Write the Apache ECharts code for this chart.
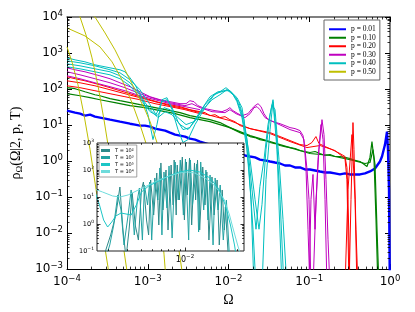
<!DOCTYPE html>
<html><head><meta charset="utf-8">
<script src="https://cdn.jsdelivr.net/npm/echarts@6/dist/echarts.min.js"></script>
<style>html,body{margin:0;padding:0;background:#fff}#c{width:415px;height:312px}</style>
</head><body><div id="c"></div>
<script>
// ---------- main panel data: [Omega, rho] ----------
const pNames = ['p = 0.01','p = 0.10','p = 0.20','p = 0.30','p = 0.40','p = 0.50'];
const pColors = ['#0000ff','#008000','#ff0000','#bf00bf','#00bfbf','#bfbf00'];

const p01_a = [[1e-4,25.1],[1.26e-4,22.1],[1.45e-4,20.7],[1.67e-4,18.2],[1.93e-4,19.4],[2.22e-4,17.1],[2.56e-4,16.1],[2.96e-4,15.1],[3.41e-4,14.1],[3.93e-4,13.3],[4.53e-4,12.4],[5.22e-4,11.7],[6.03e-4,10.9],[6.95e-4,10.3],[8.01e-4,9.64],[9.24e-4,9.64],[1.07e-3,9.05],[1.23e-3,7.96],[1.42e-3,7.47],[1.64e-3,7.01],[1.89e-3,6.17],[2.18e-3,5.43],[2.51e-3,5.10],[2.89e-3,4.79],[3.33e-3,4.21],[3.85e-3,3.95],[4.44e-3,3.48],[7.85e-3,2.37],[0.0139,1.62],[0.0160,1.43],[0.0185,1.34],[0.0213,1.26],[0.0245,1.10],[0.0283,1.04],[0.0327,0.972],[0.0377,0.912],[0.0435,0.856],[0.0501,0.753],[0.0578,0.753],[0.0667,0.663],[0.0768,0.663],[0.0886,0.584],[0.102,0.584],[0.118,0.548],[0.136,0.514],[0.157,0.482],[0.181,0.482],[0.208,0.453],[0.240,0.425],[0.277,0.453],[0.320,0.425],[0.369,0.425],[0.425,0.425],[0.490,0.453],[0.565,0.514],[0.652,0.622],[0.751,0.972],[0.796,1.34],[0.867,2.87],[0.918,6.58],[0.944,2.09],[0.972,0.163],[1.0,0.0001]];

const p10_a = [[1e-4,109],[1.26e-4,102],[1.67e-4,84.1],[2.22e-4,69.5],[2.56e-4,65.2],[3.41e-4,53.9],[4.53e-4,47.4],[6.03e-4,41.7],[8.01e-4,36.7],[1.07e-3,32.4],[1.42e-3,28.5],[1.89e-3,25.1],[2.51e-3,22.1],[3.33e-3,18.2],[4.44e-3,16.1],[5.90e-3,14.1],[7.85e-3,11.7],[0.0104,8.49],[0.0139,6.17],[0.0185,4.79],[0.0213,4.49],[0.0245,3.95],[0.0283,3.71],[0.0327,3.27],[0.0377,3.06],[0.0435,2.70],[0.0501,2.53],[0.0578,2.37],[0.0667,2.23],[0.0768,1.96],[0.0886,1.84],[0.102,1.73],[0.118,1.84],[0.136,1.62],[0.157,1.43],[0.181,1.52],[0.208,1.34],[0.240,1.34],[0.277,1.26],[0.320,1.18],[0.369,1.04],[0.425,0.972],[0.463,0.856],[0.519,0.707],[0.565,1.26],[0.598,3.48],[0.634,1.10],[0.671,0.0242],[0.710,0.0003]];
const p10_b = [[1e-4,74.1],[1.45e-4,65.2],[1.93e-4,57.4],[2.56e-4,50.5],[3.93e-4,41.7],[6.03e-4,34.5],[9.24e-4,30.4],[1.42e-3,25.1],[2.18e-3,20.7],[3.33e-3,16.1],[5.90e-3,12.4],[0.0104,8.49],[0.0185,5.10],[0.0327,3.48],[0.0578,2.37],[0.102,1.62],[0.181,1.43],[0.320,1.10],[0.490,0.856],[0.565,0.912],[0.616,2.09],[0.652,0.803],[0.690,0.0128],[0.731,0.0003]];

const p20_a = [[1e-4,219],[1.26e-4,193],[1.67e-4,169],[2.56e-4,131],[3.41e-4,109],[4.53e-4,89.7],[6.03e-4,74.1],[8.01e-4,61.2],[1.07e-3,50.5],[1.42e-3,41.7],[1.89e-3,36.7],[2.51e-3,32.4],[3.33e-3,26.7],[4.44e-3,23.5],[5.12e-3,22.1],[5.90e-3,18.2],[6.81e-3,19.4],[7.85e-3,16.1],[9.05e-3,17.1],[0.0104,14.1],[0.0120,12.4],[0.0139,9.64],[0.0185,7.96],[0.0245,7.01],[0.0327,6.17],[0.0435,4.79],[0.0578,3.71],[0.0768,2.87],[0.0938,2.70],[0.108,3.27],[0.121,4.79],[0.132,3.06],[0.157,2.53],[0.191,2.09],[0.240,1.62],[0.277,1.34],[0.293,0.663],[0.302,0.0863],[0.320,0.0003]];
const p20_b = [[1e-4,169],[1.45e-4,149],[2.22e-4,123],[3.41e-4,95.5],[5.22e-4,74.1],[8.01e-4,57.4],[1.23e-3,44.5],[1.89e-3,34.5],[2.89e-3,28.5],[4.44e-3,22.1],[6.81e-3,17.1],[0.0104,13.3],[0.0185,7.96],[0.0327,5.79],[0.0578,3.48],[0.0938,2.37],[0.136,2.70],[0.208,1.96],[0.277,1.18],[0.293,0.309],[0.311,0.0003]];
const p20_c = [[1e-4,123],[1.45e-4,109],[2.22e-4,89.7],[3.41e-4,74.1],[5.22e-4,61.2],[8.01e-4,50.5],[1.23e-3,39.2],[1.89e-3,32.4],[2.89e-3,26.7],[4.44e-3,20.7]];
const p20_s1 = [[0.311,0.0003],[0.329,0.0863],[0.348,11.7],[0.358,2.09],[0.379,0.0128],[0.4015,0.0003]];
const p20_s2 = [[0.277,0.0003],[0.302,0.163],[0.338,5.43],[0.369,0.0863],[0.390,0.0003]];

const p30_a = [[1e-4,388],[1.26e-4,342],[1.67e-4,301],[2.56e-4,233],[3.41e-4,193],[4.53e-4,149],[6.03e-4,116],[8.01e-4,84.1],[1.07e-3,61.2],[1.42e-3,50.5],[1.89e-3,44.5],[2.51e-3,39.2],[2.98e-3,39.2],[3.33e-3,47.4],[3.74e-3,44.5],[4.19e-3,34.5],[5.12e-3,28.5],[6.81e-3,25.1],[8.31e-3,23.5],[9.58e-3,26.7],[0.0104,30.4],[0.01137,25.1],[0.0131,20.7],[0.01469,18.2],[0.01744,20.7],[0.01954,28.5],[0.0213,34.5],[0.0232,39.2],[0.02526,32.4],[0.02752,20.7],[0.03084,14.1],[0.03557,12.4],[0.0435,10.9],[0.0501,9.64],[0.0578,8.49],[0.0667,7.96],[0.0768,7.01],[0.0837,5.1],[0.0886,2.09],[0.0938,0.584],[0.0993,0.0863],[0.1051,0.0003]];
const p30_b = [[1e-4,301],[1.45e-4,248],[2.22e-4,193],[3.41e-4,149],[5.22e-4,109],[8.01e-4,74.1],[1.23e-3,53.9],[1.89e-3,41.7],[2.89e-3,34.5],[3.53e-3,39.2],[4.44e-3,30.4],[6.25e-3,23.5],[9.05e-3,22.1],[0.0104,26.7],[0.01239,20.7],[0.0160,16.1],[0.0185,20.7],[0.0207,30.4],[0.02254,32.4],[0.0245,26.7],[0.0283,16.1],[0.0377,11.7],[0.0578,7.47],[0.0768,6.17],[0.0861,3.95],[0.0912,0.584],[0.0965,0.0128],[0.102,0.0003]];
const p30_c = [[1e-4,233],[1.45e-4,193],[2.22e-4,149],[3.41e-4,116],[5.22e-4,89.7],[8.01e-4,65.2],[1.23e-3,50.5],[1.89e-3,39.2],[2.89e-3,32.4],[4.44e-3,26.7]];
const p30_s1 = [[0.1113,0.0003],[0.1213,0.0863],[0.1320,2.09],[0.1438,14.1],[0.1523,5.43],[0.1612,0.309],[0.1707,0.00676],[0.1807,0.0003]];
const p30_s2 = [[0.0993,0.0003],[0.1051,0.0863],[0.1113,0.425],[0.1178,0.0128],[0.1283,1.10],[0.1397,10.3],[0.1481,3.95],[0.1567,0.0863],[0.1659,0.0003]];

const p40_a = [[1e-4,734],[1.26e-4,646],[1.67e-4,569],[2.22e-4,470],[2.56e-4,441],[2.96e-4,414],[3.41e-4,388],[3.93e-4,364],[4.53e-4,342],[5.22e-4,301],[6.03e-4,205],[6.95e-4,131],[8.01e-4,74.1],[8.73e-4,50.5],[1.007e-3,19.4],[1.16e-3,3.95],[1.30e-3,10.3],[1.50e-3,50.5],[1.73e-3,57.4],[2.00e-3,26.7],[2.37e-3,7.47],[2.73e-3,3.27],[3.15e-3,3.95],[3.85e-3,10.3],[5.12e-3,30.4],[6.81e-3,74.1],[8.31e-3,84.1],[9.58e-3,95.5],[0.01104,78.9],[0.01274,44.5],[0.01469,16.1],[0.01695,2.09],[0.0190,0.0863],[0.0207,0.0003]];
const p40_b = [[1e-4,606],[1.45e-4,534],[2.22e-4,441],[3.41e-4,342],[4.53e-4,282],[6.03e-4,181],[8.01e-4,95.5],[8.73e-4,69.5],[1.07e-3,36.7],[1.265e-3,19.4],[1.50e-3,44.5],[1.73e-3,50.5],[2.00e-3,30.4],[2.37e-3,12.4],[2.73e-3,7.47],[3.33e-3,8.49],[4.44e-3,23.5],[5.90e-3,61.2],[7.41e-3,84.1],[9.05e-3,89.7],[0.0104,89.7],[0.01239,57.4],[0.01428,23.5],[0.01647,5.43],[0.0185,1.10],[0.0213,0.0863],[0.02386,0.0128],[0.026,0.0628],[0.02913,2.09],[0.0327,19.4],[0.03557,50.5],[0.03875,7.47],[0.0435,0.0863],[0.04867,0.0003]];
const p40_c = [[1e-4,501],[1.45e-4,441],[2.22e-4,364],[3.41e-4,301],[4.53e-4,233],[6.03e-4,149],[8.01e-4,69.5],[8.73e-4,50.5],[1.07e-3,26.7],[1.34e-3,16.1],[1.64e-3,23.5],[2.00e-3,19.4],[2.51e-3,10.3],[3.15e-3,7.47],[3.96e-3,14.1],[5.12e-3,36.7],[6.43e-3,65.2],[7.85e-3,84.1],[9.31e-3,109],[0.01074,84.1],[0.01274,57.4],[0.01469,30.4],[0.01695,3.95],[0.01954,0.163],[0.02191,0.0128],[0.0245,0.198],[0.02752,1.10],[0.03084,10.3],[0.03457,36.7],[0.0377,26.7],[0.04221,1.10],[0.0473,0.0242],[0.05302,0.0003]];
const p40_d = [[1e-4,414],[1.45e-4,364],[2.22e-4,301],[3.41e-4,248],[4.53e-4,193],[6.03e-4,123],[8.01e-4,57.4],[8.73e-4,41.7],[1.07e-3,23.5],[1.30e-3,18.2],[1.59e-3,30.4],[1.89e-3,26.7],[2.37e-3,16.1],[2.98e-3,10.3],[3.74e-3,12.4],[4.83e-3,26.7],[6.25e-3,50.5],[7.85e-3,69.5],[9.58e-3,95.5],[0.01137,69.5],[0.01349,41.7],[0.01556,14.1],[0.01795,0.584],[0.02011,0.0128],[0.02191,0.0003]];
const p40_s = [[0.026,0.0003],[0.02913,0.309],[0.0327,7.47],[0.03557,44.5],[0.03987,2.09],[0.04597,0.0003]];

const p50_a = [[1e-4,1479],[1.153e-4,569],[1.368e-4,131],[1.623e-4,19.4],[1.93e-4,2.09],[2.29e-4,0.163],[2.71e-4,0.0128],[3.22e-4,0.00113],[3.41e-4,0.0003]];
const p50_b = [[1.22e-4,29500],[1.45e-4,10000],[1.72e-4,3170],[2.04e-4,734],[2.42e-4,123],[2.87e-4,14.1],[3.41e-4,1.26],[4.04e-4,0.0982],[4.80e-4,0.00767],[5.53e-4,0.00088]];
const p50_c = [[1e-4,4961],[1.67e-4,2980],[2.56e-4,1479],[3.61e-4,569],[4.80e-4,181],[6.38e-4,41.7],[8.01e-4,10.3],[1.007e-3,2.09],[1.23e-3,0.309],[1.42e-3,0.0332],[1.59e-3,0.0026],[1.68e-3,0.00053]];
const p50_d = [[1.45e-4,21500],[2.22e-4,10000],[2.96e-4,3608],[3.93e-4,1222],[5.22e-4,342],[6.95e-4,95.5],[9.24e-4,26.7],[1.07e-3,12.4],[1.30e-3,3.27],[1.64e-3,0.425],[2.00e-3,0.0457],[2.37e-3,0.00491],[2.66e-3,0.00088]];

// ---------- inset data ----------
const tNames = ['T = 10\u00b2','T = 10\u00b3','T = 10\u2075','T = 10\u2074'];
const tColors = ['#2e8a8a','#22a3a3','#1cc6c6','#6edcdc'];
const insetT2 = [[1.78e-3,0.046],[2.11e-3,0.392],[2.35e-3,2.15],[2.56e-3,23.4],[2.73e-3,0.60],[2.91e-3,0.055],[3.10e-3,0.60],[3.31e-3,14.1],[3.53e-3,0.918],[3.77e-3,0.255],[4.02e-3,18.2],[4.19e-3,35.9],[4.47e-3,1.41],[4.67e-3,0.392],[4.87e-3,42.6],[5.19e-3,2.15],[5.54e-3,77.4],[5.78e-3,0.918],[6.04e-3,182],[6.30e-3,3.30],[6.72e-3,100],[7.01e-3,0.60],[7.48e-3,153],[7.80e-3,5.06],[7.97e-3,234],[8.32e-3,2.15],[8.50e-3,153],[8.87e-3,7.74],[9.46e-3,303],[9.88e-3,1.41],[0.0103,198],[0.0105,11.9],[0.0110,278],[0.0115,0.918],[0.0122,182],[0.0125,7.74],[0.0130,234],[0.0136,0.60],[0.0145,129],[0.0152,5.06],[0.0158,84.3],[0.0165,0.255],[0.0176,55.1],[0.0184,2.15],[0.0196,42.6],[0.0205,0.167],[0.0218,18.2],[0.0228,0.60],[0.0233,4.26],[0.0248,0.055]];
const insetT3 = [[1.90e-3,0.055],[2.07e-3,0.167],[2.25e-3,0.918],[2.45e-3,11.9],[2.62e-3,3.30],[2.79e-3,0.167],[3.04e-3,2.15],[3.24e-3,18.2],[3.46e-3,0.392],[3.69e-3,7.74],[3.85e-3,21.5],[4.10e-3,0.255],[4.28e-3,27.8],[4.57e-3,5.06],[4.77e-3,35.9],[4.98e-3,0.255],[5.31e-3,50.6],[5.66e-3,7.74],[5.91e-3,119],[6.17e-3,0.392],[6.44e-3,84.3],[6.86e-3,3.91],[7.16e-3,141],[7.64e-3,0.303],[8.14e-3,198],[8.68e-3,7.74],[9.06e-3,234],[9.67e-3,2.15],[0.0101,255],[0.0108,0.255],[0.0112,234],[0.0117,5.06],[0.0128,167],[0.0133,0.506],[0.0139,198],[0.0148,3.30],[0.0155,100],[0.0162,1.41],[0.0169,65.3],[0.0180,0.167],[0.0188,50.6],[0.0200,3.30],[0.0209,27.8],[0.0223,0.255],[0.0238,7.74],[0.0254,0.055]];
const insetT5 = [[1.5e-3,18.2],[1.67e-3,5.06],[1.82e-3,1.41],[1.98e-3,0.774],[2.16e-3,1.19],[2.35e-3,1.98],[2.62e-3,2.55],[2.91e-3,2.35],[3.24e-3,2.15],[3.61e-3,5.06],[4.02e-3,15.3],[4.67e-3,25.5],[5.78e-3,39.1],[7.16e-3,60.0],[8.87e-3,84.3],[0.0110,100],[0.0136,84.3],[0.0169,50.6],[0.0200,21.5],[0.0233,5.06],[0.0259,0.918],[0.0282,0.167],[0.0294,0.055]];
const insetT4 = [[1.5e-3,19.8],[1.78e-3,15.3],[2.20e-3,10.9],[2.56e-3,10],[3.04e-3,11.9],[3.77e-3,18.2],[4.67e-3,27.8],[5.78e-3,42.6],[7.16e-3,60],[8.87e-3,77.4],[0.0105,84.3],[0.0122,77.4],[0.0152,50.6],[0.0176,33],[0.0200,18.2],[0.0228,7.74],[0.0254,2.15],[0.0276,0.60],[0.0301,0.167],[0.0321,0.071]];

// ---------- tick positions ----------
const MULT = [2,3,4,5,6,7,8,9];
const mainMinorX = []; [-4,-3,-2,-1].forEach(k => MULT.forEach(m => mainMinorX.push(m*Math.pow(10,k))));
const mainMinorY = []; [-3,-2,-1,0,1,2,3].forEach(k => MULT.forEach(m => mainMinorY.push(m*Math.pow(10,k))));
const insetMinorX = [0.002,0.003,0.004,0.005,0.006,0.007,0.008,0.009,0.02,0.03];
const insetMajorX = [0.01];
const insetMinorY = []; [-1,0,1,2].forEach(k => MULT.forEach(m => insetMinorY.push(m*Math.pow(10,k))));
const insetMajorY = [1,10,100];

function sup(v){ const e = Math.round(Math.log10(v)); return '{b|10}{p|' + (e<0?'\u2212'+(-e):String(e)) + '}'; }
const richMain = {b:{fontFamily:'DejaVu Sans',fontSize:12,lineHeight:16,color:'#000'},p:{fontFamily:'DejaVu Sans',fontSize:8.5,lineHeight:7,verticalAlign:'top',color:'#000'}};
const richInsetY = {b:{fontFamily:'DejaVu Sans',fontSize:6.5,lineHeight:9,color:'#000'},p:{fontFamily:'DejaVu Sans',fontSize:4.5,lineHeight:4,verticalAlign:'top',color:'#000'}};
const richInsetX = {b:{fontFamily:'DejaVu Sans',fontSize:8,lineHeight:11,color:'#000'},p:{fontFamily:'DejaVu Sans',fontSize:5.5,lineHeight:5,verticalAlign:'top',color:'#000'}};

function line(name, color, data, w, xi, yi, z){
  return {type:'line', name, data, xAxisIndex:xi||0, yAxisIndex:yi||0, symbol:'none', showSymbol:false,
    lineStyle:{color, width:w}, itemStyle:{color}, color, z:z||2, silent:true, animation:false, clip:true};
}
function ticks(dir, xi, yi, vals, ref, len, z){
  return {type:'custom', name:'ticks', xAxisIndex:xi, yAxisIndex:yi, silent:true, animation:false, z:z, clip:false,
    data: vals.map(v => dir==='x' ? [v, ref] : [ref, v]), encode:{x:0,y:1},
    renderItem(params, api){
      const cs = params.coordSys; const p = api.coord([api.value(0), api.value(1)]);
      const st = {stroke:'#000', lineWidth:0.8};
      if (dir==='x'){ const x = Math.round(p[0])+0.5, b = cs.y+cs.height;
        return {type:'group', children:[
          {type:'line', shape:{x1:x,y1:b,x2:x,y2:b-len}, style:st},
          {type:'line', shape:{x1:x,y1:cs.y,x2:x,y2:cs.y+len}, style:st}]}; }
      const y = Math.round(p[1])+0.5, r = cs.x+cs.width;
      return {type:'group', children:[
        {type:'line', shape:{x1:cs.x,y1:y,x2:cs.x+len,y2:y}, style:st},
        {type:'line', shape:{x1:r,y1:y,x2:r-len,y2:y}, style:st}]};
    }};
}

const series = [];
const groups = [[p01_a],[p10_a,p10_b],[p20_a,p20_b,p20_c,p20_s1,p20_s2],[p30_a,p30_b,p30_c,p30_s1,p30_s2],[p40_a,p40_b,p40_c,p40_d,p40_s],[p50_a,p50_b,p50_c,p50_d]];
const widths = [2.4,1.2,1,1,1,1];
groups.forEach((g,i) => g.forEach(d => series.push(line(pNames[i], pColors[i], d, widths[i]))));
[insetT2,insetT3,insetT5,insetT4].forEach((d,i) => series.push(line(tNames[i], tColors[i], d, 1, 2, 2, 11)));
series.push(ticks('x',0,0,mainMinorX,1,2.5,3));
series.push(ticks('y',0,0,mainMinorY,0.01,2.5,3));
series.push(ticks('x',2,2,insetMinorX,1,1.8,12));
series.push(ticks('x',2,2,insetMajorX,1,3.5,12));
series.push(ticks('y',2,2,insetMinorY,0.01,1.8,12));
series.push(ticks('y',2,2,insetMajorY,0.01,3.5,12));

const frame = {color:'#000', width:1};
const option = {
  backgroundColor:'#fff', animation:false,
  grid:[{left:67, top:17, width:323, height:253},
        {left:97, top:143, width:147, height:108, show:true, backgroundColor:'#fff', borderColor:'#222', borderWidth:1, z:10}],
  legend:[
    {data:pNames, left:324, top:20, orient:'vertical', icon:'rect', itemWidth:17, itemHeight:2, itemGap:0,
     padding:[5,4,4,5], backgroundColor:'#fff', borderColor:'#666', borderWidth:1, selectedMode:false, z:12,
     textStyle:{fontFamily:'Liberation Serif', fontSize:7.5, lineHeight:8.5, color:'#000'}},
    {data:tNames, left:99, top:145, orient:'vertical', icon:'rect', itemWidth:9, itemHeight:3, itemGap:0,
     padding:[2,3,2,2], backgroundColor:'#fff', borderColor:'#888', borderWidth:0.8, selectedMode:false, z:13,
     textStyle:{fontFamily:'DejaVu Sans', fontSize:5, lineHeight:7, color:'#000'}}],
  xAxis:[
    {type:'log', logBase:10, gridIndex:0, min:1e-4, max:1, interval:1, position:'bottom',
     axisLine:{show:true, onZero:false, lineStyle:frame}, axisTick:{inside:true, length:5, lineStyle:frame},
     axisLabel:{formatter:sup, rich:richMain, margin:5, showMinLabel:true, showMaxLabel:true}, splitLine:{show:false},
     name:'\u03a9', nameLocation:'middle', nameGap:20, nameTextStyle:{fontFamily:'Liberation Serif', fontSize:14, color:'#000'}},
    {type:'log', logBase:10, gridIndex:0, min:1e-4, max:1, interval:1, position:'top',
     axisLine:{show:true, onZero:false, lineStyle:{color:'#555', width:1.5}}, axisTick:{inside:true, length:5, lineStyle:frame},
     axisLabel:{show:false}, splitLine:{show:false}},
    {type:'log', logBase:10, gridIndex:1, min:0.00158489, max:0.0344, interval:0.4, position:'bottom', z:12,
     axisLine:{show:false}, axisTick:{show:false},
     axisLabel:{formatter:v => Math.abs(Math.log10(v)+2)<0.05 ? sup(v) : '', rich:richInsetX, margin:3}, splitLine:{show:false}}
  ],
  yAxis:[
    {type:'log', logBase:10, gridIndex:0, min:1e-3, max:1e4, interval:1, position:'left',
     axisLine:{show:true, onZero:false, lineStyle:frame}, axisTick:{inside:true, length:5, lineStyle:frame},
     axisLabel:{formatter:sup, rich:richMain, margin:4, showMinLabel:true, showMaxLabel:true}, splitLine:{show:false},
     name:'{r|\u03c1}{s|\u03a9}{r|(\u03a9|2, p, T)}', nameLocation:'middle', nameGap:34,
     nameTextStyle:{rich:{r:{fontFamily:'Liberation Serif', fontSize:14, color:'#000', lineHeight:16}, s:{fontFamily:'Liberation Serif', fontSize:9, color:'#000', verticalAlign:'bottom', lineHeight:12}}}},
    {type:'log', logBase:10, gridIndex:0, min:1e-3, max:1e4, interval:1, position:'right',
     axisLine:{show:true, onZero:false, lineStyle:{color:'#555', width:1.5}}, axisTick:{inside:true, length:5, lineStyle:frame},
     axisLabel:{show:false}, splitLine:{show:false}},
    {type:'log', logBase:10, gridIndex:1, min:0.1, max:1000, interval:1, position:'left', z:12,
     axisLine:{show:false}, axisTick:{show:false},
     axisLabel:{formatter:sup, rich:richInsetY, margin:3, showMinLabel:true, showMaxLabel:true}, splitLine:{show:false}}
  ],
  series
};
const chart = echarts.init(document.getElementById('c'), null, {renderer:'canvas'});
chart.setOption(option);
</script></body></html>
